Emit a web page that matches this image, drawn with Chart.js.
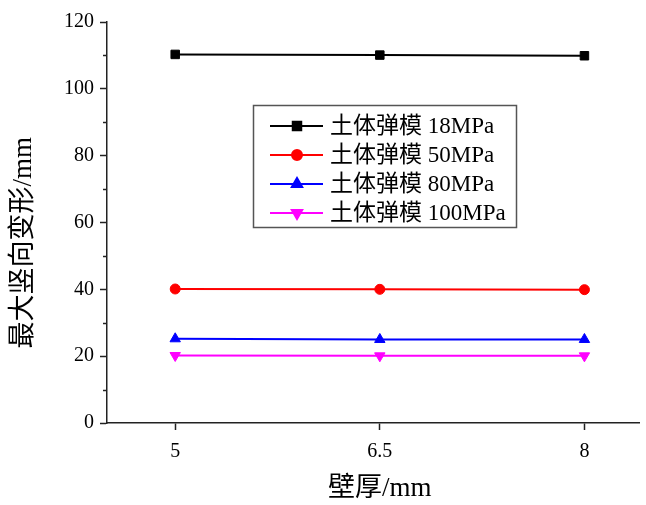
<!DOCTYPE html>
<html>
<head>
<meta charset="utf-8">
<script src="https://cdn.jsdelivr.net/npm/chart.js@4/dist/chart.umd.min.js"></script>
<style>
  html, body { margin: 0; padding: 0; background: #fff; }
  #wrap { width: 646px; height: 505px; }
</style>
</head>
<body>
<div id="wrap"><canvas id="chart" width="646" height="505"></canvas></div>
<script>
// data
const thickness = [5, 6.5, 8];
const soil18 = [110.3, 110.1, 109.9];
const soil50 = [40.1, 40.0, 39.9];
const soil80 = [25.2, 25.0, 25.0];
const soil100 = [20.2, 20.1, 20.1];
const seriesNames = ['土体弹模 18MPa', '土体弹模 50MPa', '土体弹模 80MPa', '土体弹模 100MPa'];
const yTicks = [0, 20, 40, 60, 80, 100, 120];
const yMinorTicks = [10, 30, 50, 70, 90, 110];

const FONT = "'Liberation Serif', 'Noto Sans CJK SC', serif";
const AXIS = '#222';

function pts(vals) {
  return thickness.map((x, i) => ({x: x, y: vals[i]}));
}

function series(label, vals, color, style, rot, r) {
  return {
    label: label,
    data: pts(vals),
    borderColor: color,
    backgroundColor: color,
    borderWidth: 2,
    pointStyle: style,
    rotation: rot,
    pointRadius: r,
    pointBorderWidth: 1,
    pointHoverRadius: r
  };
}

// short minor ticks on the y axis
const minorTicks = {
  id: 'minorTicks',
  afterDraw(chart) {
    const ctx = chart.ctx;
    const y = chart.scales.y;
    ctx.save();
    ctx.strokeStyle = AXIS;
    ctx.lineWidth = 1.5;
    yMinorTicks.forEach(v => {
      const py = Math.round(y.getPixelForValue(v)) + 0.5;
      ctx.beginPath();
      ctx.moveTo(y.right - 4, py);
      ctx.lineTo(y.right, py);
      ctx.stroke();
    });
    ctx.restore();
  }
};

// boxed legend inside the plot
const boxLegend = {
  id: 'boxLegend',
  afterDraw(chart) {
    const ctx = chart.ctx;
    const a = chart.chartArea;
    const left = a.left + 146, top = a.top + 83, w = 263, h = 122;
    ctx.save();
    ctx.fillStyle = '#fff';
    ctx.fillRect(left, top, w, h);
    ctx.strokeStyle = '#555';
    ctx.lineWidth = 1.5;
    ctx.strokeRect(left + 0.5, top + 0.5, w, h);
    chart.data.datasets.forEach((ds, i) => {
      const cy = top + 21 + i * 29;
      ctx.strokeStyle = ds.borderColor;
      ctx.lineWidth = 2;
      ctx.beginPath();
      ctx.moveTo(left + 17, cy);
      ctx.lineTo(left + 70, cy);
      ctx.stroke();
      ctx.fillStyle = ds.backgroundColor;
      Chart.helpers.drawPoint(ctx, {
        pointStyle: ds.pointStyle,
        rotation: ds.rotation,
        radius: ds.pointRadius,
        borderWidth: 1
      }, left + 44, cy);
      ctx.fillStyle = '#000';
      ctx.font = '23px ' + FONT;
      ctx.textBaseline = 'middle';
      ctx.fillText(ds.label, left + 77, cy + 1);
    });
    ctx.restore();
  }
};

new Chart(document.getElementById('chart'), {
  type: 'line',
  data: {
    datasets: [
      series(seriesNames[0], soil18, '#000000', 'rect', 0, 6),
      series(seriesNames[1], soil50, '#ff0000', 'circle', 0, 5),
      series(seriesNames[2], soil80, '#0000ff', 'triangle', 0, 6),
      series(seriesNames[3], soil100, '#ff00ff', 'triangle', 180, 6)
    ]
  },
  options: {
    responsive: false,
    animation: false,
    layout: { padding: { top: 22, right: 0, left: 0, bottom: 0 } },
    plugins: {
      legend: { display: false },
      tooltip: { enabled: false }
    },
    scales: {
      x: {
        type: 'linear',
        min: 4.5,
        max: 8.4,
        afterBuildTicks(scale) {
          scale.ticks = thickness.map(v => ({value: v}));
        },
        afterFit(scale) {
          scale.height = 82;
        },
        ticks: {
          color: '#000',
          font: { family: FONT, size: 20 },
          padding: 10,
          maxRotation: 0,
          callback: v => String(v)
        },
        grid: {
          drawOnChartArea: false,
          drawTicks: true,
          tickLength: 7,
          tickWidth: 1.5,
          color: AXIS
        },
        border: { display: true, color: AXIS, width: 1.5 },
        title: {
          display: true,
          // leading spaces nudge the title a bit right, as in the original
          text: '  壁厚/mm',
          color: '#000',
          font: { family: FONT, size: 27 },
          padding: { top: 0, bottom: 0 }
        }
      },
      y: {
        min: 0,
        max: 120,
        afterBuildTicks(scale) {
          scale.ticks = yTicks.map(v => ({value: v}));
        },
        afterFit(scale) { scale.width = 107; },
        ticks: {
          color: '#000',
          font: { family: FONT, size: 20 },
          padding: 6
        },
        grid: {
          drawOnChartArea: false,
          drawTicks: true,
          tickLength: 7,
          tickWidth: 1.5,
          color: AXIS
        },
        border: { display: true, color: AXIS, width: 1.5 },
        title: {
          display: true,
          // trailing spaces push the rotated title a little lower, as in the original
          text: '最大竖向变形/mm      ',
          color: '#000',
          font: { family: FONT, size: 27 },
          padding: { top: 8, bottom: 0 }
        }
      }
    }
  },
  plugins: [minorTicks, boxLegend]
});
</script>
</body>
</html>
